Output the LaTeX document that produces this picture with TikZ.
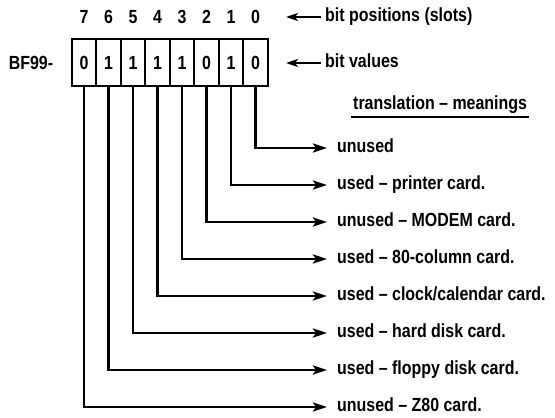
\documentclass[tikz,border=0pt]{standalone}
\usepackage{fontspec}
\setmainfont[FakeStretch=0.84]{Liberation Sans}
\usetikzlibrary{arrows.meta}
\tikzset{
  txt/.style={inner sep=0pt,font=\bfseries\fontsize{19}{22}\selectfont},
  note/.style={txt,anchor=west,text height=13.5pt,text depth=4pt},
  cell/.style={txt,draw,line width=2pt,minimum width=24.5pt,minimum height=47pt},
  lead/.style={line width=2.8pt,-{Stealth[length=14pt,width=9pt,inset=3pt]}},
  pointer/.style={line width=2.2pt,-{Stealth[length=12pt,width=8pt,inset=3pt]}},
}
\begin{document}
\begin{tikzpicture}[x=1pt,y=-1pt]
  \useasboundingbox (0,0) rectangle (555,418);

  % register address
  \node[txt] (addr) at (31,63) {BF99-};

  % slot byte, bit 0 on the right
  \foreach \v/\t [count=\i from 0] in {0/unused,
      1/used \textendash\ printer card.,
      0/unused \textendash\ MODEM card.,
      1/used \textendash\ 80-column card.,
      1/{used \textendash\ clock/calendar card.},
      1/used \textendash\ hard disk card.,
      1/used \textendash\ floppy disk card.,
      0/unused \textendash\ Z80 card.}{
    \node[cell] (b\i) at (255.5-24.5*\i,62.5) {\v};
    \node[txt] (p\i) at (255.5-24.5*\i,17) {\i};
    \node[note] (m\i) at (337,148+37*\i) {\t};
    \draw[lead,shorten >=10pt] (b\i.south) |- (m\i.west);
  }

  % side notes
  \node[note] (slots) at (325,17) {bit positions (slots)};
  \coordinate (slotstip) at (286,17);
  \draw[pointer,shorten <=4pt] (slots.west) -- (slotstip);

  \node[note] (vals) at (325,63) {bit values};
  \coordinate (valstip) at (286,63);
  \draw[pointer,shorten <=4pt] (vals.west) -- (valstip);

  \node[note] (trans) at (353,105) {translation \textendash\ meanings};
  \draw[line width=1.5pt] ([yshift=-7pt,xshift=-2pt]trans.base west) -- ([yshift=-7pt,xshift=2pt]trans.base east);
\end{tikzpicture}
\end{document}
